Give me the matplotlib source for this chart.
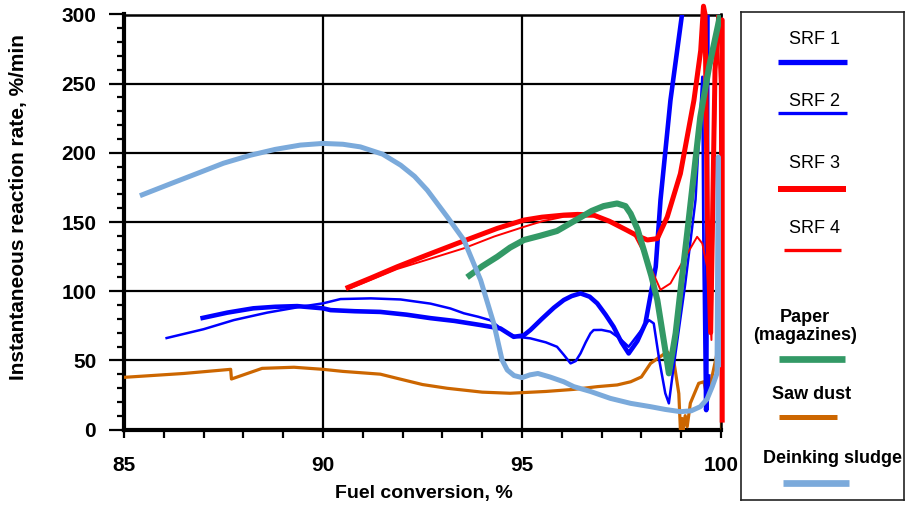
import matplotlib
matplotlib.use("Agg")
import matplotlib.pyplot as plt
from matplotlib.ticker import MultipleLocator

plt.rcParams['font.family'] = ['Liberation Sans', 'DejaVu Sans']

# ---------------- data ----------------
srf1_x = [86.92, 87.6, 88.25, 88.8, 89.35, 90.0, 90.19, 90.8, 91.44, 92.1, 92.7, 93.3, 93.96, 94.46, 94.79,
          95.04, 95.21, 95.5, 95.8, 96.05, 96.25, 96.47, 96.7, 96.89, 97.1, 97.3, 97.5, 97.68, 97.9, 98.1,
          98.36, 98.48, 98.73, 99.02, 99.3, 99.66, 99.63, 99.68]
srf1_y = [80.3, 84.5, 87.6, 88.7, 89.2, 87.6, 86.3, 85.5, 85.0, 83.0, 80.5, 78.5, 75.5, 73.0, 67.0,
          68.0, 71.9, 80.0, 88.0, 93.6, 96.5, 98.4, 96.0, 91.2, 83.0, 74.3, 63.0, 55.0, 64.0, 76.7,
          117.6, 166.0, 238.0, 300.0, 360.0, 300.0, 14.0, 40.0]

srf2_x = [86.04, 87.0, 87.76, 88.6, 89.43, 90.0, 90.44, 91.2, 91.95, 92.7, 93.2, 93.54, 93.9, 94.2,
          94.63, 94.88, 95.21, 95.6, 95.88, 96.05, 96.22, 96.35, 96.47, 96.6, 96.72, 96.8, 97.0,
          97.22, 97.45, 97.68, 97.95, 98.19, 98.31, 98.45, 98.6, 98.69, 98.81, 99.1, 99.36, 99.53,
          99.56, 99.6, 99.62]
srf2_y = [65.9, 72.5, 79.1, 84.5, 88.7, 91.2, 94.3, 94.8, 94.0, 91.0, 87.5, 84.0, 81.5, 79.0,
          69.5, 67.0, 65.9, 63.0, 59.8, 54.0, 47.8, 49.5, 55.0, 63.0, 69.5, 71.9, 72.0,
          70.7, 66.0, 59.8, 70.0, 79.1, 76.7, 50.0, 26.2, 18.9, 45.4, 105.0, 166.0, 255.0,
          120.0, 14.0, 25.0]

srf3_x = [90.57, 91.2, 91.86, 92.6, 93.37, 94.38, 95.05, 95.5, 96.05, 96.4, 96.8, 97.2, 97.64, 97.9,
          98.15, 98.4, 98.65, 98.98, 99.32, 99.49, 99.56, 99.6, 99.66, 99.74, 99.85, 99.95, 100.03,
          100.03]
srf3_y = [102.0, 109.5, 117.6, 126.0, 134.5, 145.4, 151.4, 153.5, 155.0, 155.5, 155.0, 150.5, 144.0,
          140.0, 137.0, 138.0, 153.7, 185.0, 238.0, 274.0, 306.0, 300.0, 150.0, 70.0, 260.0, 296.0,
          296.0, 5.0]

srf4_x = [90.6, 91.86, 92.7, 93.54, 94.3, 95.05, 95.5, 96.05, 96.8, 97.3, 97.8, 98.15, 98.48, 98.73,
          99.06, 99.4, 99.53, 99.65, 99.76, 99.84, 99.9, 99.97, 100.0]
srf4_y = [101.0, 116.0, 123.5, 131.0, 139.5, 146.5, 150.5, 153.8, 154.0, 150.0, 141.8, 122.5, 101.0,
          105.6, 122.5, 139.3, 134.5, 117.6, 64.7, 200.0, 300.0, 250.0, 20.0]

paper_x = [93.62, 94.0, 94.38, 94.7, 95.05, 95.45, 95.88, 96.3, 96.75, 97.05, 97.39, 97.6, 97.73, 97.9,
           98.06, 98.25, 98.4, 98.6, 98.69, 98.86, 99.0, 99.15, 99.3, 99.48, 99.7, 99.98]
paper_y = [110.0, 118.0, 124.9, 131.5, 137.0, 140.0, 143.5, 150.5, 158.0, 161.5, 163.4, 161.5, 156.0,
           145.0, 129.7, 111.0, 93.6, 57.4, 40.6, 69.5, 105.0, 141.8, 180.0, 226.0, 262.0, 299.6]

sawdust_x = [85.0, 86.5, 87.68, 87.7, 88.47, 89.27, 90.0, 90.5, 91.44, 91.86, 92.5, 93.12, 94.0, 94.7,
             95.6, 96.3, 96.9, 97.39, 97.73, 98.0, 98.23, 98.65, 98.81, 98.94, 98.98, 99.02, 99.05,
             99.1, 99.15, 99.23, 99.44, 99.57, 99.65, 99.75, 99.9, 99.97, 100.0, 100.02, 100.03]
sawdust_y = [37.7, 40.5, 43.5, 36.5, 44.2, 45.0, 43.5, 42.0, 40.0, 37.0, 32.5, 29.8, 27.0, 26.2,
             27.5, 29.0, 31.0, 32.2, 34.5, 38.0, 47.8, 56.2, 50.2, 26.0, 0.0, 8.0, 0.0,
             10.0, 2.0, 19.0, 33.4, 34.5, 23.7, 35.0, 55.0, 130.0, 173.0, 60.0, 0.0]

sludge_x = [85.4, 86.2, 86.92, 87.5, 88.18, 88.8, 89.43, 90.0, 90.5, 90.94, 91.5, 91.95, 92.3, 92.62,
            93.12, 93.54, 93.96, 94.29, 94.5, 94.63, 94.8, 95.0, 95.2, 95.4, 95.7, 96.05, 96.3, 96.72,
            97.22, 97.73, 98.23, 98.6, 98.98, 99.25, 99.48, 99.65, 99.78, 99.9, 99.93, 99.97, 100.0]
sludge_y = [169.0, 178.0, 186.0, 192.5, 198.3, 202.5, 205.6, 206.8, 206.2, 204.3, 199.0, 191.1,
            183.0, 173.0, 153.8, 137.0, 108.0, 76.7, 50.2, 43.0, 39.0, 37.5, 39.5, 40.5, 38.0,
            34.5, 31.0, 27.5, 22.5, 18.9, 16.5, 14.5, 12.9, 13.5, 16.5, 22.0, 31.0, 40.6,
            197.0, 195.0, 45.0]

labels = ["SRF 1", "SRF 2", "SRF 3", "SRF 4", "Paper\n(magazines)", "Saw dust", "Deinking sludge"]
colors = ["#0000FF", "#0000FF", "#FF0000", "#FF0000", "#339966", "#CC6600", "#7BAADB"]
widths = [3.3, 1.8, 3.6, 1.4, 4.4, 2.3, 3.6]
series_x = [srf1_x, srf2_x, srf3_x, srf4_x, paper_x, sawdust_x, sludge_x]
series_y = [srf1_y, srf2_y, srf3_y, srf4_y, paper_y, sawdust_y, sludge_y]

x_label = "Fuel conversion, %"
y_label = "Instantaneous reaction rate, %/min"

# ---------------- figure ----------------
W, H = 905, 509
fig = plt.figure(figsize=(W / 100, H / 100), dpi=100)
ax = fig.add_axes([124 / W, 1 - 429.5 / H, (721 - 124) / W, (429.5 - 14.5) / H])

draw_order = [5, 0, 1, 2, 3, 4, 6]
zorders = {5: 3, 0: 4, 1: 4, 2: 5, 3: 5, 4: 6, 6: 7}
for i in draw_order:
    ax.plot(series_x[i], series_y[i], color=colors[i], lw=widths[i],
            solid_capstyle='butt', solid_joinstyle='round', zorder=zorders[i],
            clip_on=(i != 2))

ax.set_xlim(85, 100)
ax.set_ylim(0, 300)
ax.xaxis.set_major_locator(MultipleLocator(5))
ax.xaxis.set_minor_locator(MultipleLocator(1))
ax.yaxis.set_major_locator(MultipleLocator(50))
ax.yaxis.set_minor_locator(MultipleLocator(10))

ax.grid(True, which='major', color='black', lw=1.6, zorder=1)
ax.set_axisbelow(True)
for s in ['left', 'bottom']:
    ax.spines[s].set_linewidth(3)
for s in ['top', 'right']:
    ax.spines[s].set_linewidth(1.8)

ax.tick_params(axis='x', which='major', direction='out', length=6, width=1.6, pad=13,
               labelsize=15)
ax.tick_params(axis='x', which='minor', direction='out', length=6, width=1.6)
ax.tick_params(axis='y', which='major', direction='out', length=11, width=1.6, pad=9,
               labelsize=15)
ax.tick_params(axis='y', which='minor', direction='out', length=5, width=1.6)
for lab in ax.get_xticklabels() + ax.get_yticklabels():
    lab.set_fontweight('bold')

ax.set_xlabel(x_label, fontsize=14, fontweight='bold')
ax.xaxis.set_label_coords(0.5017, -0.134)
ax.set_ylabel(y_label, fontsize=15, fontweight='bold')
ax.yaxis.set_label_coords(-0.16, 0.537)

# ---------------- legend box ----------------
lg = fig.add_axes([741 / W, 1 - 500 / H, 163 / W, 488 / H])
lg.set_xlim(741, 904)
lg.set_ylim(500, 12)
lg.set_xticks([])
lg.set_yticks([])
for s in lg.spines.values():
    s.set_linewidth(1.2)
    s.set_color('#222222')

text_pos = [(814, 39.3), (814, 101.7), (814, 163.3), (814, 228.3), (805, 326.5), (811.7, 395), (832, 458.3)]
line_pos = [(778, 847, 62), (778, 847, 113), (778, 846, 189), (784, 841, 250),
            (779, 845, 359), (779, 837, 417), (783, 849, 483)]
line_px = [5.3, 3.3, 6.0, 3.3, 6.7, 5.0, 6.7]
for i, lab in enumerate(labels):
    tx, ty = text_pos[i]
    weight = 'normal' if i < 4 else 'bold'
    lg.text(tx, ty, lab, ha='center', va='center', fontsize=13, fontweight=weight,
            multialignment='center', linespacing=1.1, clip_on=False)
    x0, x1, ly = line_pos[i]
    lg.plot([x0, x1], [ly, ly], color=colors[i], lw=line_px[i] * 0.72, solid_capstyle='butt')

fig.savefig("out.png", dpi=100)
